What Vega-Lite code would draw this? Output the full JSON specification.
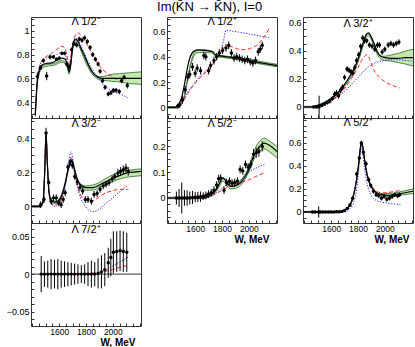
{
"$schema": "https://vega.github.io/schema/vega-lite/v6.json",
"padding": {"left": 5, "top": 1, "right": 2, "bottom": 0},
"title": {"text": "Im(K̄N → K̄N),  I=0", "fontSize": 13, "fontWeight": "normal", "anchor": "middle", "offset": 0, "font": "Liberation Sans"},
"spacing": 9,
"datasets": {
"cur": [
{"p":1,"s":"k","W":1422,"v":0.29},{"p":1,"s":"k","W":1435,"v":0.55},{"p":1,"s":"k","W":1450,"v":0.66},{"p":1,"s":"k","W":1470,"v":0.71},{"p":1,"s":"k","W":1500,"v":0.725},{"p":1,"s":"k","W":1540,"v":0.73},{"p":1,"s":"k","W":1580,"v":0.75},{"p":1,"s":"k","W":1620,"v":0.77},{"p":1,"s":"k","W":1645,"v":0.76},{"p":1,"s":"k","W":1662,"v":0.71},{"p":1,"s":"k","W":1674,"v":0.655},{"p":1,"s":"k","W":1686,"v":0.72},{"p":1,"s":"k","W":1700,"v":0.86},{"p":1,"s":"k","W":1718,"v":0.93},{"p":1,"s":"k","W":1740,"v":0.91},{"p":1,"s":"k","W":1760,"v":0.86},{"p":1,"s":"k","W":1790,"v":0.79},{"p":1,"s":"k","W":1820,"v":0.71},{"p":1,"s":"k","W":1850,"v":0.65},{"p":1,"s":"k","W":1880,"v":0.615},{"p":1,"s":"k","W":1920,"v":0.6},{"p":1,"s":"k","W":1980,"v":0.6},{"p":1,"s":"k","W":2050,"v":0.6},{"p":1,"s":"k","W":2120,"v":0.6},{"p":1,"s":"k","W":2210,"v":0.6},
{"p":1,"s":"r","W":1422,"v":0.3},{"p":1,"s":"r","W":1440,"v":0.62},{"p":1,"s":"r","W":1460,"v":0.72},{"p":1,"s":"r","W":1490,"v":0.77},{"p":1,"s":"r","W":1530,"v":0.8},{"p":1,"s":"r","W":1580,"v":0.84},{"p":1,"s":"r","W":1620,"v":0.87},{"p":1,"s":"r","W":1645,"v":0.85},{"p":1,"s":"r","W":1662,"v":0.77},{"p":1,"s":"r","W":1674,"v":0.7},{"p":1,"s":"r","W":1688,"v":0.79},{"p":1,"s":"r","W":1712,"v":0.94},{"p":1,"s":"r","W":1740,"v":0.98},{"p":1,"s":"r","W":1765,"v":0.96},{"p":1,"s":"r","W":1800,"v":0.9},{"p":1,"s":"r","W":1840,"v":0.82},{"p":1,"s":"r","W":1880,"v":0.74},{"p":1,"s":"r","W":1920,"v":0.68},{"p":1,"s":"r","W":1960,"v":0.64},{"p":1,"s":"r","W":2000,"v":0.61},{"p":1,"s":"r","W":2050,"v":0.58},{"p":1,"s":"r","W":2090,"v":0.56},
{"p":1,"s":"b","W":1422,"v":0.3},{"p":1,"s":"b","W":1440,"v":0.62},{"p":1,"s":"b","W":1460,"v":0.72},{"p":1,"s":"b","W":1490,"v":0.76},{"p":1,"s":"b","W":1530,"v":0.78},{"p":1,"s":"b","W":1580,"v":0.8},{"p":1,"s":"b","W":1620,"v":0.82},{"p":1,"s":"b","W":1645,"v":0.8},{"p":1,"s":"b","W":1662,"v":0.73},{"p":1,"s":"b","W":1674,"v":0.68},{"p":1,"s":"b","W":1688,"v":0.77},{"p":1,"s":"b","W":1712,"v":0.91},{"p":1,"s":"b","W":1732,"v":0.935},{"p":1,"s":"b","W":1760,"v":0.88},{"p":1,"s":"b","W":1800,"v":0.78},{"p":1,"s":"b","W":1840,"v":0.69},{"p":1,"s":"b","W":1880,"v":0.62},{"p":1,"s":"b","W":1920,"v":0.56},{"p":1,"s":"b","W":1960,"v":0.52},{"p":1,"s":"b","W":2000,"v":0.49},{"p":1,"s":"b","W":2050,"v":0.47},{"p":1,"s":"b","W":2110,"v":0.44},
{"p":2,"s":"k","W":1390,"v":0},{"p":2,"s":"k","W":1450,"v":0},{"p":2,"s":"k","W":1475,"v":0.02},{"p":2,"s":"k","W":1500,"v":0.08},{"p":2,"s":"k","W":1520,"v":0.18},{"p":2,"s":"k","W":1540,"v":0.3},{"p":2,"s":"k","W":1560,"v":0.39},{"p":2,"s":"k","W":1585,"v":0.44},{"p":2,"s":"k","W":1620,"v":0.455},{"p":2,"s":"k","W":1680,"v":0.45},{"p":2,"s":"k","W":1730,"v":0.44},{"p":2,"s":"k","W":1752,"v":0.415},{"p":2,"s":"k","W":1800,"v":0.405},{"p":2,"s":"k","W":1900,"v":0.39},{"p":2,"s":"k","W":2000,"v":0.37},{"p":2,"s":"k","W":2100,"v":0.35},{"p":2,"s":"k","W":2210,"v":0.33},
{"p":2,"s":"b","W":1390,"v":0},{"p":2,"s":"b","W":1450,"v":0},{"p":2,"s":"b","W":1480,"v":0.02},{"p":2,"s":"b","W":1510,"v":0.06},{"p":2,"s":"b","W":1550,"v":0.13},{"p":2,"s":"b","W":1600,"v":0.2},{"p":2,"s":"b","W":1650,"v":0.26},{"p":2,"s":"b","W":1700,"v":0.31},{"p":2,"s":"b","W":1750,"v":0.37},{"p":2,"s":"b","W":1785,"v":0.43},{"p":2,"s":"b","W":1810,"v":0.52},{"p":2,"s":"b","W":1830,"v":0.61},{"p":2,"s":"b","W":1860,"v":0.605},{"p":2,"s":"b","W":1920,"v":0.595},{"p":2,"s":"b","W":2000,"v":0.58},{"p":2,"s":"b","W":2080,"v":0.565},{"p":2,"s":"b","W":2150,"v":0.55},
{"p":2,"s":"r","W":1390,"v":0},{"p":2,"s":"r","W":1450,"v":0},{"p":2,"s":"r","W":1480,"v":0.02},{"p":2,"s":"r","W":1510,"v":0.05},{"p":2,"s":"r","W":1550,"v":0.12},{"p":2,"s":"r","W":1600,"v":0.19},{"p":2,"s":"r","W":1650,"v":0.25},{"p":2,"s":"r","W":1700,"v":0.3},{"p":2,"s":"r","W":1750,"v":0.37},{"p":2,"s":"r","W":1790,"v":0.43},{"p":2,"s":"r","W":1830,"v":0.48},{"p":2,"s":"r","W":1870,"v":0.48},{"p":2,"s":"r","W":1920,"v":0.46},{"p":2,"s":"r","W":1970,"v":0.455},{"p":2,"s":"r","W":2020,"v":0.47},{"p":2,"s":"r","W":2070,"v":0.5},{"p":2,"s":"r","W":2110,"v":0.55},{"p":2,"s":"r","W":2150,"v":0.62},
{"p":3,"s":"k","W":1390,"v":0},{"p":3,"s":"k","W":1450,"v":0},{"p":3,"s":"k","W":1500,"v":0.01},{"p":3,"s":"k","W":1550,"v":0.03},{"p":3,"s":"k","W":1600,"v":0.06},{"p":3,"s":"k","W":1650,"v":0.1},{"p":3,"s":"k","W":1700,"v":0.16},{"p":3,"s":"k","W":1740,"v":0.22},{"p":3,"s":"k","W":1780,"v":0.29},{"p":3,"s":"k","W":1810,"v":0.37},{"p":3,"s":"k","W":1840,"v":0.46},{"p":3,"s":"k","W":1862,"v":0.515},{"p":3,"s":"k","W":1878,"v":0.525},{"p":3,"s":"k","W":1900,"v":0.495},{"p":3,"s":"k","W":1920,"v":0.45},{"p":3,"s":"k","W":1945,"v":0.39},{"p":3,"s":"k","W":1970,"v":0.36},{"p":3,"s":"k","W":2000,"v":0.35},{"p":3,"s":"k","W":2050,"v":0.345},{"p":3,"s":"k","W":2100,"v":0.345},{"p":3,"s":"k","W":2150,"v":0.35},{"p":3,"s":"k","W":2210,"v":0.35},
{"p":3,"s":"b","W":1390,"v":0},{"p":3,"s":"b","W":1450,"v":0},{"p":3,"s":"b","W":1500,"v":0.01},{"p":3,"s":"b","W":1550,"v":0.025},{"p":3,"s":"b","W":1600,"v":0.045},{"p":3,"s":"b","W":1650,"v":0.075},{"p":3,"s":"b","W":1700,"v":0.11},{"p":3,"s":"b","W":1750,"v":0.16},{"p":3,"s":"b","W":1800,"v":0.21},{"p":3,"s":"b","W":1850,"v":0.26},{"p":3,"s":"b","W":1900,"v":0.3},{"p":3,"s":"b","W":1950,"v":0.32},{"p":3,"s":"b","W":2000,"v":0.33},{"p":3,"s":"b","W":2050,"v":0.335},{"p":3,"s":"b","W":2100,"v":0.335},{"p":3,"s":"b","W":2150,"v":0.33},{"p":3,"s":"b","W":2210,"v":0.325},
{"p":3,"s":"r","W":1390,"v":0},{"p":3,"s":"r","W":1450,"v":0},{"p":3,"s":"r","W":1500,"v":0.01},{"p":3,"s":"r","W":1550,"v":0.025},{"p":3,"s":"r","W":1600,"v":0.045},{"p":3,"s":"r","W":1650,"v":0.08},{"p":3,"s":"r","W":1700,"v":0.13},{"p":3,"s":"r","W":1750,"v":0.2},{"p":3,"s":"r","W":1800,"v":0.28},{"p":3,"s":"r","W":1840,"v":0.35},{"p":3,"s":"r","W":1865,"v":0.37},{"p":3,"s":"r","W":1885,"v":0.345},{"p":3,"s":"r","W":1905,"v":0.29},{"p":3,"s":"r","W":1930,"v":0.245},{"p":3,"s":"r","W":1960,"v":0.21},{"p":3,"s":"r","W":2000,"v":0.18},{"p":3,"s":"r","W":2050,"v":0.155},{"p":3,"s":"r","W":2110,"v":0.135},
{"p":4,"s":"k","W":1390,"v":0},{"p":4,"s":"k","W":1460,"v":0},{"p":4,"s":"k","W":1480,"v":0.03},{"p":4,"s":"k","W":1492,"v":0.2},{"p":4,"s":"k","W":1502,"v":0.43},{"p":4,"s":"k","W":1512,"v":0.25},{"p":4,"s":"k","W":1525,"v":0.08},{"p":4,"s":"k","W":1545,"v":0.03},{"p":4,"s":"k","W":1575,"v":0.025},{"p":4,"s":"k","W":1610,"v":0.05},{"p":4,"s":"k","W":1640,"v":0.12},{"p":4,"s":"k","W":1665,"v":0.21},{"p":4,"s":"k","W":1685,"v":0.26},{"p":4,"s":"k","W":1695,"v":0.27},{"p":4,"s":"k","W":1710,"v":0.23},{"p":4,"s":"k","W":1730,"v":0.17},{"p":4,"s":"k","W":1760,"v":0.125},{"p":4,"s":"k","W":1800,"v":0.11},{"p":4,"s":"k","W":1850,"v":0.11},{"p":4,"s":"k","W":1900,"v":0.125},{"p":4,"s":"k","W":1950,"v":0.145},{"p":4,"s":"k","W":2000,"v":0.165},{"p":4,"s":"k","W":2050,"v":0.18},{"p":4,"s":"k","W":2100,"v":0.195},{"p":4,"s":"k","W":2150,"v":0.2},{"p":4,"s":"k","W":2210,"v":0.205},
{"p":4,"s":"b","W":1390,"v":0},{"p":4,"s":"b","W":1460,"v":0},{"p":4,"s":"b","W":1480,"v":0.03},{"p":4,"s":"b","W":1492,"v":0.19},{"p":4,"s":"b","W":1502,"v":0.4},{"p":4,"s":"b","W":1512,"v":0.24},{"p":4,"s":"b","W":1525,"v":0.07},{"p":4,"s":"b","W":1545,"v":0.01},{"p":4,"s":"b","W":1565,"v":0},{"p":4,"s":"b","W":1590,"v":0.01},{"p":4,"s":"b","W":1620,"v":0.05},{"p":4,"s":"b","W":1650,"v":0.14},{"p":4,"s":"b","W":1670,"v":0.25},{"p":4,"s":"b","W":1688,"v":0.32},{"p":4,"s":"b","W":1700,"v":0.29},{"p":4,"s":"b","W":1715,"v":0.21},{"p":4,"s":"b","W":1735,"v":0.12},{"p":4,"s":"b","W":1760,"v":0.05},{"p":4,"s":"b","W":1790,"v":0.005},{"p":4,"s":"b","W":1830,"v":-0.025},{"p":4,"s":"b","W":1860,"v":-0.03},{"p":4,"s":"b","W":1900,"v":-0.015},{"p":4,"s":"b","W":1950,"v":0.02},{"p":4,"s":"b","W":2000,"v":0.05},{"p":4,"s":"b","W":2050,"v":0.085},{"p":4,"s":"b","W":2116,"v":0.125},
{"p":4,"s":"r","W":1390,"v":0},{"p":4,"s":"r","W":1460,"v":0},{"p":4,"s":"r","W":1480,"v":0.03},{"p":4,"s":"r","W":1492,"v":0.2},{"p":4,"s":"r","W":1502,"v":0.42},{"p":4,"s":"r","W":1512,"v":0.25},{"p":4,"s":"r","W":1525,"v":0.075},{"p":4,"s":"r","W":1545,"v":0.015},{"p":4,"s":"r","W":1565,"v":0.005},{"p":4,"s":"r","W":1590,"v":0.015},{"p":4,"s":"r","W":1620,"v":0.05},{"p":4,"s":"r","W":1650,"v":0.15},{"p":4,"s":"r","W":1670,"v":0.24},{"p":4,"s":"r","W":1688,"v":0.29},{"p":4,"s":"r","W":1700,"v":0.26},{"p":4,"s":"r","W":1720,"v":0.17},{"p":4,"s":"r","W":1743,"v":0.1},{"p":4,"s":"r","W":1770,"v":0.055},{"p":4,"s":"r","W":1800,"v":0.035},{"p":4,"s":"r","W":1830,"v":0.03},{"p":4,"s":"r","W":1870,"v":0.04},{"p":4,"s":"r","W":1905,"v":0.06},{"p":4,"s":"r","W":1950,"v":0.08},{"p":4,"s":"r","W":1990,"v":0.09},{"p":4,"s":"r","W":2050,"v":0.1},{"p":4,"s":"r","W":2116,"v":0.1},
{"p":5,"s":"k","W":1390,"v":0},{"p":5,"s":"k","W":1650,"v":0},{"p":5,"s":"k","W":1690,"v":0.006},{"p":5,"s":"k","W":1730,"v":0.018},{"p":5,"s":"k","W":1760,"v":0.035},{"p":5,"s":"k","W":1785,"v":0.06},{"p":5,"s":"k","W":1805,"v":0.077},{"p":5,"s":"k","W":1820,"v":0.072},{"p":5,"s":"k","W":1840,"v":0.056},{"p":5,"s":"k","W":1865,"v":0.045},{"p":5,"s":"k","W":1900,"v":0.047},{"p":5,"s":"k","W":1940,"v":0.06},{"p":5,"s":"k","W":1975,"v":0.085},{"p":5,"s":"k","W":2000,"v":0.11},{"p":5,"s":"k","W":2030,"v":0.155},{"p":5,"s":"k","W":2060,"v":0.185},{"p":5,"s":"k","W":2090,"v":0.205},{"p":5,"s":"k","W":2115,"v":0.213},{"p":5,"s":"k","W":2150,"v":0.205},{"p":5,"s":"k","W":2210,"v":0.18},
{"p":5,"s":"b","W":1390,"v":0},{"p":5,"s":"b","W":1680,"v":0},{"p":5,"s":"b","W":1720,"v":0.01},{"p":5,"s":"b","W":1760,"v":0.022},{"p":5,"s":"b","W":1800,"v":0.038},{"p":5,"s":"b","W":1850,"v":0.055},{"p":5,"s":"b","W":1900,"v":0.058},{"p":5,"s":"b","W":1930,"v":0.066},{"p":5,"s":"b","W":1960,"v":0.08},{"p":5,"s":"b","W":2000,"v":0.1},{"p":5,"s":"b","W":2050,"v":0.115},{"p":5,"s":"b","W":2116,"v":0.13},
{"p":5,"s":"r","W":1390,"v":0},{"p":5,"s":"r","W":1680,"v":0},{"p":5,"s":"r","W":1720,"v":0.008},{"p":5,"s":"r","W":1760,"v":0.018},{"p":5,"s":"r","W":1800,"v":0.03},{"p":5,"s":"r","W":1850,"v":0.043},{"p":5,"s":"r","W":1900,"v":0.052},{"p":5,"s":"r","W":1950,"v":0.062},{"p":5,"s":"r","W":2000,"v":0.07},{"p":5,"s":"r","W":2050,"v":0.083},{"p":5,"s":"r","W":2116,"v":0.097},
{"p":6,"s":"k","W":1390,"v":0},{"p":6,"s":"k","W":1660,"v":0},{"p":6,"s":"k","W":1700,"v":0.015},{"p":6,"s":"k","W":1730,"v":0.045},{"p":6,"s":"k","W":1755,"v":0.1},{"p":6,"s":"k","W":1775,"v":0.19},{"p":6,"s":"k","W":1792,"v":0.3},{"p":6,"s":"k","W":1808,"v":0.45},{"p":6,"s":"k","W":1818,"v":0.56},{"p":6,"s":"k","W":1826,"v":0.6},{"p":6,"s":"k","W":1835,"v":0.57},{"p":6,"s":"k","W":1845,"v":0.49},{"p":6,"s":"k","W":1860,"v":0.37},{"p":6,"s":"k","W":1880,"v":0.27},{"p":6,"s":"k","W":1905,"v":0.21},{"p":6,"s":"k","W":1940,"v":0.165},{"p":6,"s":"k","W":1980,"v":0.15},{"p":6,"s":"k","W":2030,"v":0.145},{"p":6,"s":"k","W":2080,"v":0.15},{"p":6,"s":"k","W":2140,"v":0.165},{"p":6,"s":"k","W":2210,"v":0.18},
{"p":6,"s":"b","W":1390,"v":0},{"p":6,"s":"b","W":1700,"v":0},{"p":6,"s":"b","W":1740,"v":0.03},{"p":6,"s":"b","W":1770,"v":0.09},{"p":6,"s":"b","W":1790,"v":0.2},{"p":6,"s":"b","W":1808,"v":0.4},{"p":6,"s":"b","W":1820,"v":0.55},{"p":6,"s":"b","W":1826,"v":0.57},{"p":6,"s":"b","W":1835,"v":0.51},{"p":6,"s":"b","W":1845,"v":0.41},{"p":6,"s":"b","W":1858,"v":0.3},{"p":6,"s":"b","W":1875,"v":0.21},{"p":6,"s":"b","W":1900,"v":0.14},{"p":6,"s":"b","W":1930,"v":0.105},{"p":6,"s":"b","W":1980,"v":0.085},{"p":6,"s":"b","W":2030,"v":0.075},{"p":6,"s":"b","W":2080,"v":0.068},{"p":6,"s":"b","W":2116,"v":0.064},
{"p":6,"s":"r","W":1390,"v":0},{"p":6,"s":"r","W":1660,"v":0},{"p":6,"s":"r","W":1700,"v":0.012},{"p":6,"s":"r","W":1730,"v":0.04},{"p":6,"s":"r","W":1755,"v":0.09},{"p":6,"s":"r","W":1775,"v":0.18},{"p":6,"s":"r","W":1792,"v":0.29},{"p":6,"s":"r","W":1808,"v":0.44},{"p":6,"s":"r","W":1818,"v":0.55},{"p":6,"s":"r","W":1826,"v":0.59},{"p":6,"s":"r","W":1835,"v":0.56},{"p":6,"s":"r","W":1845,"v":0.49},{"p":6,"s":"r","W":1860,"v":0.38},{"p":6,"s":"r","W":1880,"v":0.28},{"p":6,"s":"r","W":1905,"v":0.22},{"p":6,"s":"r","W":1940,"v":0.18},{"p":6,"s":"r","W":1980,"v":0.165},{"p":6,"s":"r","W":2030,"v":0.17},{"p":6,"s":"r","W":2080,"v":0.18},{"p":6,"s":"r","W":2116,"v":0.185},
{"p":7,"s":"z","W":1390,"v":0},{"p":7,"s":"z","W":2210,"v":0},
{"p":7,"s":"r","W":1600,"v":0},{"p":7,"s":"r","W":1700,"v":0.0005},{"p":7,"s":"r","W":1800,"v":0.001},{"p":7,"s":"r","W":1900,"v":0.002},{"p":7,"s":"r","W":1950,"v":0.004},{"p":7,"s":"r","W":2000,"v":0.006},{"p":7,"s":"r","W":2050,"v":0.009},{"p":7,"s":"r","W":2100,"v":0.011},
{"p":7,"s":"b","W":1800,"v":0},{"p":7,"s":"b","W":1900,"v":0.002},{"p":7,"s":"b","W":1950,"v":0.006},{"p":7,"s":"b","W":2000,"v":0.011},{"p":7,"s":"b","W":2050,"v":0.016},{"p":7,"s":"b","W":2100,"v":0.021},{"p":7,"s":"b","W":2115,"v":0.023}
],
"band": [
{"p":1,"W":1422,"v":0.28,"v2":0.3},{"p":1,"W":1435,"v":0.53,"v2":0.55},{"p":1,"W":1450,"v":0.63,"v2":0.65},{"p":1,"W":1470,"v":0.685,"v2":0.7},{"p":1,"W":1500,"v":0.7,"v2":0.715},{"p":1,"W":1560,"v":0.71,"v2":0.725},{"p":1,"W":1620,"v":0.735,"v2":0.75},{"p":1,"W":1645,"v":0.725,"v2":0.74},{"p":1,"W":1662,"v":0.685,"v2":0.7},{"p":1,"W":1674,"v":0.635,"v2":0.655},{"p":1,"W":1686,"v":0.7,"v2":0.72},{"p":1,"W":1700,"v":0.84,"v2":0.855},{"p":1,"W":1718,"v":0.9,"v2":0.915},{"p":1,"W":1740,"v":0.885,"v2":0.9},{"p":1,"W":1770,"v":0.81,"v2":0.825},{"p":1,"W":1800,"v":0.73,"v2":0.745},{"p":1,"W":1840,"v":0.645,"v2":0.66},{"p":1,"W":1880,"v":0.6,"v2":0.62},{"p":1,"W":1920,"v":0.585,"v2":0.615},{"p":1,"W":1960,"v":0.58,"v2":0.625},{"p":1,"W":2000,"v":0.575,"v2":0.635},{"p":1,"W":2050,"v":0.57,"v2":0.64},{"p":1,"W":2100,"v":0.56,"v2":0.645},{"p":1,"W":2150,"v":0.555,"v2":0.65},{"p":1,"W":2210,"v":0.55,"v2":0.655},
{"p":2,"W":1390,"v":-0.006,"v2":0.006},{"p":2,"W":1460,"v":-0.006,"v2":0.006},{"p":2,"W":1490,"v":0.01,"v2":0.025},{"p":2,"W":1520,"v":0.08,"v2":0.1},{"p":2,"W":1550,"v":0.25,"v2":0.27},{"p":2,"W":1580,"v":0.38,"v2":0.4},{"p":2,"W":1610,"v":0.43,"v2":0.45},{"p":2,"W":1660,"v":0.435,"v2":0.455},{"p":2,"W":1720,"v":0.43,"v2":0.445},{"p":2,"W":1750,"v":0.405,"v2":0.42},{"p":2,"W":1800,"v":0.395,"v2":0.41},{"p":2,"W":1900,"v":0.38,"v2":0.395},{"p":2,"W":2000,"v":0.36,"v2":0.38},{"p":2,"W":2100,"v":0.34,"v2":0.36},{"p":2,"W":2210,"v":0.32,"v2":0.34},
{"p":3,"W":1390,"v":-0.005,"v2":0.005},{"p":3,"W":1450,"v":-0.005,"v2":0.005},{"p":3,"W":1500,"v":0.005,"v2":0.015},{"p":3,"W":1550,"v":0.02,"v2":0.035},{"p":3,"W":1600,"v":0.05,"v2":0.065},{"p":3,"W":1650,"v":0.085,"v2":0.1},{"p":3,"W":1700,"v":0.145,"v2":0.16},{"p":3,"W":1740,"v":0.2,"v2":0.22},{"p":3,"W":1780,"v":0.27,"v2":0.29},{"p":3,"W":1810,"v":0.345,"v2":0.365},{"p":3,"W":1840,"v":0.44,"v2":0.46},{"p":3,"W":1862,"v":0.5,"v2":0.515},{"p":3,"W":1878,"v":0.505,"v2":0.52},{"p":3,"W":1900,"v":0.475,"v2":0.49},{"p":3,"W":1920,"v":0.43,"v2":0.445},{"p":3,"W":1945,"v":0.37,"v2":0.385},{"p":3,"W":1970,"v":0.34,"v2":0.36},{"p":3,"W":2000,"v":0.33,"v2":0.36},{"p":3,"W":2050,"v":0.325,"v2":0.37},{"p":3,"W":2100,"v":0.315,"v2":0.38},{"p":3,"W":2150,"v":0.305,"v2":0.395},{"p":3,"W":2210,"v":0.29,"v2":0.41},
{"p":4,"W":1390,"v":-0.005,"v2":0.005},{"p":4,"W":1460,"v":-0.005,"v2":0.005},{"p":4,"W":1480,"v":0.02,"v2":0.035},{"p":4,"W":1492,"v":0.19,"v2":0.21},{"p":4,"W":1502,"v":0.41,"v2":0.43},{"p":4,"W":1512,"v":0.24,"v2":0.26},{"p":4,"W":1525,"v":0.07,"v2":0.085},{"p":4,"W":1545,"v":0.02,"v2":0.035},{"p":4,"W":1575,"v":0.015,"v2":0.03},{"p":4,"W":1610,"v":0.04,"v2":0.055},{"p":4,"W":1640,"v":0.11,"v2":0.125},{"p":4,"W":1665,"v":0.2,"v2":0.215},{"p":4,"W":1685,"v":0.25,"v2":0.265},{"p":4,"W":1695,"v":0.26,"v2":0.275},{"p":4,"W":1710,"v":0.22,"v2":0.235},{"p":4,"W":1730,"v":0.16,"v2":0.175},{"p":4,"W":1760,"v":0.115,"v2":0.13},{"p":4,"W":1800,"v":0.095,"v2":0.12},{"p":4,"W":1850,"v":0.095,"v2":0.125},{"p":4,"W":1900,"v":0.11,"v2":0.14},{"p":4,"W":1950,"v":0.13,"v2":0.165},{"p":4,"W":2000,"v":0.145,"v2":0.185},{"p":4,"W":2050,"v":0.16,"v2":0.2},{"p":4,"W":2100,"v":0.17,"v2":0.21},{"p":4,"W":2150,"v":0.175,"v2":0.215},{"p":4,"W":2210,"v":0.18,"v2":0.22},
{"p":5,"W":1390,"v":-0.003,"v2":0.003},{"p":5,"W":1650,"v":-0.003,"v2":0.003},{"p":5,"W":1690,"v":0.002,"v2":0.01},{"p":5,"W":1730,"v":0.012,"v2":0.022},{"p":5,"W":1760,"v":0.028,"v2":0.04},{"p":5,"W":1785,"v":0.05,"v2":0.065},{"p":5,"W":1805,"v":0.065,"v2":0.08},{"p":5,"W":1820,"v":0.06,"v2":0.075},{"p":5,"W":1840,"v":0.045,"v2":0.06},{"p":5,"W":1865,"v":0.035,"v2":0.05},{"p":5,"W":1900,"v":0.037,"v2":0.053},{"p":5,"W":1940,"v":0.05,"v2":0.068},{"p":5,"W":1975,"v":0.075,"v2":0.095},{"p":5,"W":2000,"v":0.1,"v2":0.122},{"p":5,"W":2030,"v":0.14,"v2":0.168},{"p":5,"W":2060,"v":0.17,"v2":0.205},{"p":5,"W":2090,"v":0.185,"v2":0.225},{"p":5,"W":2115,"v":0.19,"v2":0.232},{"p":5,"W":2150,"v":0.18,"v2":0.222},{"p":5,"W":2210,"v":0.155,"v2":0.2},
{"p":6,"W":1390,"v":-0.005,"v2":0.005},{"p":6,"W":1660,"v":-0.005,"v2":0.005},{"p":6,"W":1700,"v":0.01,"v2":0.02},{"p":6,"W":1730,"v":0.04,"v2":0.05},{"p":6,"W":1755,"v":0.095,"v2":0.105},{"p":6,"W":1775,"v":0.185,"v2":0.195},{"p":6,"W":1792,"v":0.295,"v2":0.305},{"p":6,"W":1808,"v":0.445,"v2":0.455},{"p":6,"W":1818,"v":0.555,"v2":0.565},{"p":6,"W":1826,"v":0.595,"v2":0.605},{"p":6,"W":1835,"v":0.565,"v2":0.575},{"p":6,"W":1845,"v":0.485,"v2":0.495},{"p":6,"W":1860,"v":0.365,"v2":0.375},{"p":6,"W":1880,"v":0.265,"v2":0.275},{"p":6,"W":1905,"v":0.2,"v2":0.215},{"p":6,"W":1940,"v":0.155,"v2":0.17},{"p":6,"W":1980,"v":0.14,"v2":0.16},{"p":6,"W":2030,"v":0.135,"v2":0.16},{"p":6,"W":2080,"v":0.14,"v2":0.167},{"p":6,"W":2140,"v":0.15,"v2":0.182},{"p":6,"W":2210,"v":0.16,"v2":0.2}
],
"pts": [
{"p":1,"W":1437,"v":0.615,"e":0.035},{"p":1,"W":1462,"v":0.69,"e":0.02},{"p":1,"W":1482,"v":0.75,"e":0.02},{"p":1,"W":1507,"v":0.62,"e":0.035},{"p":1,"W":1532,"v":0.78,"e":0.02},{"p":1,"W":1557,"v":0.78,"e":0.015},{"p":1,"W":1580,"v":0.76,"e":0.015},{"p":1,"W":1600,"v":0.77,"e":0.015},{"p":1,"W":1620,"v":0.81,"e":0.015},{"p":1,"W":1640,"v":0.81,"e":0.015},{"p":1,"W":1656,"v":0.72,"e":0.02},{"p":1,"W":1673,"v":0.7,"e":0.02},{"p":1,"W":1693,"v":0.84,"e":0.02},{"p":1,"W":1710,"v":0.89,"e":0.02},{"p":1,"W":1730,"v":0.88,"e":0.02},{"p":1,"W":1750,"v":0.93,"e":0.02},{"p":1,"W":1770,"v":0.92,"e":0.02},{"p":1,"W":1790,"v":0.94,"e":0.02},{"p":1,"W":1810,"v":0.91,"e":0.02},{"p":1,"W":1830,"v":0.86,"e":0.02},{"p":1,"W":1850,"v":0.8,"e":0.02},{"p":1,"W":1870,"v":0.76,"e":0.02},{"p":1,"W":1890,"v":0.72,"e":0.02},{"p":1,"W":1905,"v":0.66,"e":0.02},{"p":1,"W":1924,"v":0.58,"e":0.02},{"p":1,"W":1942,"v":0.525,"e":0.02},{"p":1,"W":1966,"v":0.47,"e":0.02},{"p":1,"W":1986,"v":0.48,"e":0.02},{"p":1,"W":2004,"v":0.5,"e":0.02},{"p":1,"W":2024,"v":0.5,"e":0.02},{"p":1,"W":2048,"v":0.49,"e":0.02},{"p":1,"W":2066,"v":0.58,"e":0.02},{"p":1,"W":2084,"v":0.61,"e":0.02},{"p":1,"W":2108,"v":0.54,"e":0.025},
{"p":2,"W":1470,"v":0.01,"e":0.02},{"p":2,"W":1485,"v":0.02,"e":0.025},{"p":2,"W":1505,"v":0.06,"e":0.03},{"p":2,"W":1525,"v":0.14,"e":0.03},{"p":2,"W":1545,"v":0.24,"e":0.03},{"p":2,"W":1560,"v":0.26,"e":0.03},{"p":2,"W":1580,"v":0.32,"e":0.03},{"p":2,"W":1600,"v":0.27,"e":0.03},{"p":2,"W":1615,"v":0.31,"e":0.03},{"p":2,"W":1640,"v":0.29,"e":0.03},{"p":2,"W":1665,"v":0.41,"e":0.03},{"p":2,"W":1680,"v":0.4,"e":0.03},{"p":2,"W":1700,"v":0.29,"e":0.03},{"p":2,"W":1715,"v":0.33,"e":0.03},{"p":2,"W":1740,"v":0.37,"e":0.03},{"p":2,"W":1760,"v":0.4,"e":0.03},{"p":2,"W":1780,"v":0.43,"e":0.03},{"p":2,"W":1805,"v":0.45,"e":0.03},{"p":2,"W":1830,"v":0.47,"e":0.03},{"p":2,"W":1850,"v":0.49,"e":0.03},{"p":2,"W":1870,"v":0.43,"e":0.03},{"p":2,"W":1890,"v":0.39,"e":0.03},{"p":2,"W":1910,"v":0.4,"e":0.03},{"p":2,"W":1930,"v":0.39,"e":0.03},{"p":2,"W":1950,"v":0.38,"e":0.03},{"p":2,"W":1970,"v":0.37,"e":0.03},{"p":2,"W":1990,"v":0.38,"e":0.03},{"p":2,"W":2010,"v":0.36,"e":0.03},{"p":2,"W":2030,"v":0.35,"e":0.03},{"p":2,"W":2050,"v":0.37,"e":0.03},{"p":2,"W":2070,"v":0.44,"e":0.03},{"p":2,"W":2085,"v":0.46,"e":0.03},{"p":2,"W":2100,"v":0.49,"e":0.03},
{"p":3,"W":1470,"v":0,"e":0.008},{"p":3,"W":1490,"v":0,"e":0.008},{"p":3,"W":1510,"v":0,"e":0.08},{"p":3,"W":1530,"v":0.01,"e":0.01},{"p":3,"W":1550,"v":0.02,"e":0.01},{"p":3,"W":1570,"v":0.03,"e":0.01},{"p":3,"W":1590,"v":0.04,"e":0.015},{"p":3,"W":1610,"v":0.06,"e":0.015},{"p":3,"W":1625,"v":0.09,"e":0.02},{"p":3,"W":1640,"v":0.1,"e":0.02},{"p":3,"W":1655,"v":0.08,"e":0.02},{"p":3,"W":1670,"v":0.12,"e":0.02},{"p":3,"W":1685,"v":0.14,"e":0.02},{"p":3,"W":1700,"v":0.21,"e":0.02},{"p":3,"W":1718,"v":0.27,"e":0.02},{"p":3,"W":1733,"v":0.26,"e":0.02},{"p":3,"W":1748,"v":0.25,"e":0.02},{"p":3,"W":1762,"v":0.24,"e":0.02},{"p":3,"W":1776,"v":0.28,"e":0.02},{"p":3,"W":1790,"v":0.33,"e":0.02},{"p":3,"W":1805,"v":0.37,"e":0.02},{"p":3,"W":1820,"v":0.43,"e":0.02},{"p":3,"W":1835,"v":0.49,"e":0.02},{"p":3,"W":1850,"v":0.47,"e":0.02},{"p":3,"W":1865,"v":0.47,"e":0.02},{"p":3,"W":1885,"v":0.44,"e":0.02},{"p":3,"W":1905,"v":0.43,"e":0.02},{"p":3,"W":1925,"v":0.41,"e":0.02},{"p":3,"W":1945,"v":0.44,"e":0.02},{"p":3,"W":1960,"v":0.44,"e":0.02},{"p":3,"W":1980,"v":0.39,"e":0.02},{"p":3,"W":2000,"v":0.41,"e":0.02},{"p":3,"W":2025,"v":0.44,"e":0.02},{"p":3,"W":2045,"v":0.45,"e":0.02},{"p":3,"W":2065,"v":0.44,"e":0.02},{"p":3,"W":2085,"v":0.45,"e":0.02},{"p":3,"W":2105,"v":0.46,"e":0.02},
{"p":4,"W":1462,"v":0.01,"e":0.02},{"p":4,"W":1487,"v":0.04,"e":0.02},{"p":4,"W":1502,"v":0.43,"e":0.03},{"p":4,"W":1522,"v":0.14,"e":0.02},{"p":4,"W":1540,"v":0.03,"e":0.02},{"p":4,"W":1558,"v":0.05,"e":0.02},{"p":4,"W":1578,"v":0.05,"e":0.02},{"p":4,"W":1598,"v":0.02,"e":0.02},{"p":4,"W":1615,"v":0.01,"e":0.02},{"p":4,"W":1630,"v":0.04,"e":0.02},{"p":4,"W":1645,"v":0.08,"e":0.02},{"p":4,"W":1665,"v":0.23,"e":0.02},{"p":4,"W":1683,"v":0.26,"e":0.02},{"p":4,"W":1698,"v":0.24,"e":0.02},{"p":4,"W":1716,"v":0.175,"e":0.02},{"p":4,"W":1735,"v":0.145,"e":0.02},{"p":4,"W":1755,"v":0.11,"e":0.02},{"p":4,"W":1775,"v":0.09,"e":0.02},{"p":4,"W":1795,"v":0.04,"e":0.02},{"p":4,"W":1815,"v":0.04,"e":0.02},{"p":4,"W":1840,"v":0.03,"e":0.02},{"p":4,"W":1860,"v":0.07,"e":0.02},{"p":4,"W":1883,"v":0.075,"e":0.02},{"p":4,"W":1905,"v":0.1,"e":0.02},{"p":4,"W":1928,"v":0.12,"e":0.02},{"p":4,"W":1950,"v":0.13,"e":0.02},{"p":4,"W":1972,"v":0.14,"e":0.02},{"p":4,"W":1995,"v":0.16,"e":0.02},{"p":4,"W":2015,"v":0.175,"e":0.02},{"p":4,"W":2038,"v":0.195,"e":0.025},{"p":4,"W":2058,"v":0.205,"e":0.025},{"p":4,"W":2078,"v":0.215,"e":0.025},{"p":4,"W":2098,"v":0.225,"e":0.025},{"p":4,"W":2115,"v":0.205,"e":0.025},
{"p":5,"W":1460,"v":0,"e":0.025},{"p":5,"W":1480,"v":0,"e":0.035},{"p":5,"W":1500,"v":0,"e":0.06},{"p":5,"W":1520,"v":0,"e":0.03},{"p":5,"W":1540,"v":0,"e":0.03},{"p":5,"W":1560,"v":0,"e":0.025},{"p":5,"W":1580,"v":0.002,"e":0.025},{"p":5,"W":1600,"v":0.003,"e":0.02},{"p":5,"W":1620,"v":0.004,"e":0.02},{"p":5,"W":1640,"v":0.005,"e":0.02},{"p":5,"W":1660,"v":0.007,"e":0.015},{"p":5,"W":1680,"v":0.01,"e":0.015},{"p":5,"W":1700,"v":0.015,"e":0.015},{"p":5,"W":1720,"v":0.02,"e":0.015},{"p":5,"W":1740,"v":0.03,"e":0.015},{"p":5,"W":1760,"v":0.05,"e":0.015},{"p":5,"W":1775,"v":0.075,"e":0.015},{"p":5,"W":1790,"v":0.077,"e":0.015},{"p":5,"W":1815,"v":0.03,"e":0.015},{"p":5,"W":1835,"v":0.06,"e":0.015},{"p":5,"W":1855,"v":0.065,"e":0.015},{"p":5,"W":1875,"v":0.058,"e":0.015},{"p":5,"W":1895,"v":0.06,"e":0.015},{"p":5,"W":1915,"v":0.065,"e":0.015},{"p":5,"W":1935,"v":0.11,"e":0.015},{"p":5,"W":1955,"v":0.105,"e":0.015},{"p":5,"W":1975,"v":0.13,"e":0.015},{"p":5,"W":1995,"v":0.12,"e":0.015},{"p":5,"W":2015,"v":0.13,"e":0.015},{"p":5,"W":2035,"v":0.17,"e":0.02},{"p":5,"W":2055,"v":0.175,"e":0.02},{"p":5,"W":2075,"v":0.18,"e":0.02},{"p":5,"W":2100,"v":0.2,"e":0.02},
{"p":6,"W":1460,"v":0,"e":0.008},{"p":6,"W":1480,"v":0,"e":0.008},{"p":6,"W":1507,"v":0,"e":0.05},{"p":6,"W":1520,"v":0,"e":0.01},{"p":6,"W":1540,"v":0,"e":0.008},{"p":6,"W":1560,"v":0,"e":0.008},{"p":6,"W":1580,"v":0,"e":0.008},{"p":6,"W":1600,"v":0,"e":0.008},{"p":6,"W":1620,"v":0,"e":0.008},{"p":6,"W":1640,"v":0.002,"e":0.008},{"p":6,"W":1660,"v":0.002,"e":0.008},{"p":6,"W":1680,"v":0.005,"e":0.008},{"p":6,"W":1700,"v":0.012,"e":0.01},{"p":6,"W":1720,"v":0.03,"e":0.01},{"p":6,"W":1740,"v":0.06,"e":0.012},{"p":6,"W":1760,"v":0.12,"e":0.015},{"p":6,"W":1790,"v":0.33,"e":0.02},{"p":6,"W":1810,"v":0.47,"e":0.02},{"p":6,"W":1825,"v":0.6,"e":0.02},{"p":6,"W":1840,"v":0.52,"e":0.02},{"p":6,"W":1860,"v":0.42,"e":0.02},{"p":6,"W":1880,"v":0.28,"e":0.02},{"p":6,"W":1895,"v":0.23,"e":0.02},{"p":6,"W":1915,"v":0.18,"e":0.02},{"p":6,"W":1935,"v":0.15,"e":0.02},{"p":6,"W":1955,"v":0.14,"e":0.02},{"p":6,"W":1975,"v":0.12,"e":0.02},{"p":6,"W":1995,"v":0.135,"e":0.02},{"p":6,"W":2015,"v":0.11,"e":0.02},{"p":6,"W":2035,"v":0.12,"e":0.02},{"p":6,"W":2055,"v":0.135,"e":0.02},{"p":6,"W":2075,"v":0.15,"e":0.02},{"p":6,"W":2095,"v":0.14,"e":0.02},{"p":6,"W":2110,"v":0.15,"e":0.02},
{"p":7,"W":1466,"v":0,"e":0.024},{"p":7,"W":1490,"v":0,"e":0.017},{"p":7,"W":1515,"v":0,"e":0.018},{"p":7,"W":1540,"v":0,"e":0.02},{"p":7,"W":1565,"v":0,"e":0.019},{"p":7,"W":1590,"v":0,"e":0.02},{"p":7,"W":1615,"v":0,"e":0.018},{"p":7,"W":1640,"v":0,"e":0.017},{"p":7,"W":1665,"v":0,"e":0.016},{"p":7,"W":1690,"v":0,"e":0.015},{"p":7,"W":1715,"v":0,"e":0.014},{"p":7,"W":1740,"v":0,"e":0.013},{"p":7,"W":1765,"v":0,"e":0.012},{"p":7,"W":1790,"v":0,"e":0.013},{"p":7,"W":1815,"v":0,"e":0.016},{"p":7,"W":1840,"v":0,"e":0.018},{"p":7,"W":1865,"v":0,"e":0.016},{"p":7,"W":1890,"v":0.001,"e":0.02},{"p":7,"W":1915,"v":0.003,"e":0.022},{"p":7,"W":1940,"v":0.006,"e":0.022},{"p":7,"W":1966,"v":0.015,"e":0.02},{"p":7,"W":1985,"v":0.022,"e":0.025},{"p":7,"W":2004,"v":0.029,"e":0.028},{"p":7,"W":2029,"v":0.03,"e":0.027},{"p":7,"W":2054,"v":0.031,"e":0.027},{"p":7,"W":2078,"v":0.03,"e":0.027},{"p":7,"W":2104,"v":0.029,"e":0.026}
]
},
"hconcat": [
{"spacing": 0, "bounds": "flush", "vconcat": [
{"width": 110, "height": 101, "title": {"text": "Λ 1/2⁻", "offset": -12, "fontSize": 11, "fontWeight": "normal"},
 "encoding": {
  "x": {"field": "W", "type": "quantitative", "title": null, "scale": {"domain": [1390, 2210], "nice": false, "zero": false}, "axis": {"values": [1400,1450,1500,1550,1600,1650,1700,1750,1800,1850,1900,1950,2000,2050,2100,2150,2200], "labels": false}},
  "y": {"field": "v", "type": "quantitative", "title": null, "scale": {"domain": [0.268, 1.115], "nice": false, "zero": false}, "axis": {"values": [0.3,0.35,0.4,0.45,0.5,0.55,0.6,0.65,0.7,0.75,0.8,0.85,0.9,0.95,1,1.05,1.1], "format": "~g", "labelExpr": "indexof([0.4,0.6,0.8,1], datum.value) >= 0 ? datum.label : ''"}}
 },
 "layer": [
  {"data": {"name": "band"}, "transform": [{"filter": "datum.p==1"}], "mark": {"type": "area", "color": "#c4e7b0", "interpolate": "monotone", "clip": true}, "encoding": {"y2": {"field": "v2"}}},
  {"data": {"name": "band"}, "transform": [{"filter": "datum.p==1"}], "mark": {"type": "line", "color": "#2b6a2b", "strokeWidth": 0.8, "interpolate": "monotone", "clip": true}},
  {"data": {"name": "band"}, "transform": [{"filter": "datum.p==1"}], "mark": {"type": "line", "color": "#2b6a2b", "strokeWidth": 0.8, "interpolate": "monotone", "clip": true}, "encoding": {"y": {"field": "v2", "type": "quantitative", "title": null}}},
  {"data": {"name": "cur"}, "transform": [{"filter": "datum.p==1 && datum.s=='r'"}], "mark": {"type": "line", "color": "#ff2020", "strokeDash": [4, 2.5], "strokeWidth": 1, "interpolate": "monotone", "clip": true}},
  {"data": {"name": "cur"}, "transform": [{"filter": "datum.p==1 && datum.s=='b'"}], "mark": {"type": "line", "color": "#2020ff", "strokeDash": [1.2, 1.6], "strokeWidth": 1, "interpolate": "monotone", "clip": true}},
  {"data": {"name": "cur"}, "transform": [{"filter": "datum.p==1 && datum.s=='k'"}], "mark": {"type": "line", "color": "#000", "strokeWidth": 1.2, "interpolate": "monotone", "clip": true}},
  {"data": {"name": "pts"}, "transform": [{"filter": "datum.p==1"}], "mark": {"type": "errorbar", "color": "#000", "thickness": 1}, "encoding": {"yError": {"field": "e"}}},
  {"data": {"name": "pts"}, "transform": [{"filter": "datum.p==1"}], "mark": {"type": "circle", "size": 12, "color": "#000", "opacity": 1}}
 ]},
{"width": 110, "height": 105, "title": {"text": "Λ 3/2⁻", "offset": -12, "fontSize": 11, "fontWeight": "normal"},
 "encoding": {
  "x": {"field": "W", "type": "quantitative", "title": null, "scale": {"domain": [1390, 2210], "nice": false, "zero": false}, "axis": {"values": [1400,1450,1500,1550,1600,1650,1700,1750,1800,1850,1900,1950,2000,2050,2100,2150,2200], "labels": false}},
  "y": {"field": "v", "type": "quantitative", "title": null, "scale": {"domain": [-0.097, 0.517], "nice": false, "zero": false}, "axis": {"values": [-0.05,0,0.05,0.1,0.15,0.2,0.25,0.3,0.35,0.4,0.45,0.5], "format": "~g", "labelExpr": "indexof([0,0.2,0.4], datum.value) >= 0 ? datum.label : ''"}}
 },
 "layer": [
  {"data": {"name": "band"}, "transform": [{"filter": "datum.p==4"}], "mark": {"type": "area", "color": "#c4e7b0", "interpolate": "monotone", "clip": true}, "encoding": {"y2": {"field": "v2"}}},
  {"data": {"name": "band"}, "transform": [{"filter": "datum.p==4"}], "mark": {"type": "line", "color": "#2b6a2b", "strokeWidth": 0.8, "interpolate": "monotone", "clip": true}},
  {"data": {"name": "band"}, "transform": [{"filter": "datum.p==4"}], "mark": {"type": "line", "color": "#2b6a2b", "strokeWidth": 0.8, "interpolate": "monotone", "clip": true}, "encoding": {"y": {"field": "v2", "type": "quantitative", "title": null}}},
  {"data": {"name": "cur"}, "transform": [{"filter": "datum.p==4 && datum.s=='r'"}], "mark": {"type": "line", "color": "#ff2020", "strokeDash": [4, 2.5], "strokeWidth": 1, "interpolate": "monotone", "clip": true}},
  {"data": {"name": "cur"}, "transform": [{"filter": "datum.p==4 && datum.s=='b'"}], "mark": {"type": "line", "color": "#2020ff", "strokeDash": [1.2, 1.6], "strokeWidth": 1, "interpolate": "monotone", "clip": true}},
  {"data": {"name": "cur"}, "transform": [{"filter": "datum.p==4 && datum.s=='k'"}], "mark": {"type": "line", "color": "#000", "strokeWidth": 1.2, "interpolate": "monotone", "clip": true}},
  {"data": {"name": "pts"}, "transform": [{"filter": "datum.p==4"}], "mark": {"type": "errorbar", "color": "#000", "thickness": 1}, "encoding": {"yError": {"field": "e"}}},
  {"data": {"name": "pts"}, "transform": [{"filter": "datum.p==4"}], "mark": {"type": "circle", "size": 12, "color": "#000", "opacity": 1}}
 ]},
{"width": 110, "height": 103, "title": {"text": "Λ 7/2⁺", "offset": -12, "fontSize": 11, "fontWeight": "normal"},
 "encoding": {
  "x": {"field": "W", "type": "quantitative", "title": null, "scale": {"domain": [1390, 2210], "nice": false, "zero": false}, "axis": {"values": [1400,1450,1500,1550,1600,1650,1700,1750,1800,1850,1900,1950,2000,2050,2100,2150,2200], "format": "d", "labelExpr": "datum.value==1600||datum.value==1800||datum.value==2000 ? datum.label : ''", "labelFontSize": 8.5, "labelPadding": 4, "title": "W, MeV", "titleX": 104, "titleAlign": "right", "titleFontWeight": "bold", "titleFontSize": 10, "titlePadding": 2, "labelFlush": false}},
  "y": {"field": "v", "type": "quantitative", "title": null, "scale": {"domain": [-0.069, 0.068], "nice": false, "zero": false}, "axis": {"values": [-0.06,-0.05,-0.04,-0.03,-0.02,-0.01,0,0.01,0.02,0.03,0.04,0.05,0.06], "format": "~g", "labelExpr": "indexof([-0.05,0,0.05], datum.value) >= 0 ? datum.label : ''"}}
 },
 "layer": [
  {"data": {"name": "cur"}, "transform": [{"filter": "datum.p==7 && datum.s=='z'"}], "mark": {"type": "line", "color": "#333", "strokeWidth": 1, "clip": true}},
  {"data": {"name": "cur"}, "transform": [{"filter": "datum.p==7 && datum.s=='r'"}], "mark": {"type": "line", "color": "#ff2020", "strokeDash": [4, 2.5], "strokeWidth": 1, "interpolate": "monotone", "clip": true}},
  {"data": {"name": "cur"}, "transform": [{"filter": "datum.p==7 && datum.s=='b'"}], "mark": {"type": "line", "color": "#2020ff", "strokeDash": [1.2, 1.6], "strokeWidth": 1, "interpolate": "monotone", "clip": true}},
  {"data": {"name": "pts"}, "transform": [{"filter": "datum.p==7"}], "mark": {"type": "errorbar", "color": "#000", "thickness": 1}, "encoding": {"yError": {"field": "e"}}},
  {"data": {"name": "pts"}, "transform": [{"filter": "datum.p==7"}], "mark": {"type": "circle", "size": 12, "color": "#000", "opacity": 1}}
 ]}
]},
{"spacing": 0, "bounds": "flush", "vconcat": [
{"width": 110, "height": 101, "title": {"text": "Λ 1/2⁺", "offset": -12, "fontSize": 11, "fontWeight": "normal"},
 "encoding": {
  "x": {"field": "W", "type": "quantitative", "title": null, "scale": {"domain": [1390, 2210], "nice": false, "zero": false}, "axis": {"values": [1400,1450,1500,1550,1600,1650,1700,1750,1800,1850,1900,1950,2000,2050,2100,2150,2200], "labels": false}},
  "y": {"field": "v", "type": "quantitative", "title": null, "scale": {"domain": [-0.084, 0.714], "nice": false, "zero": false}, "axis": {"values": [-0.05,0,0.05,0.1,0.15,0.2,0.25,0.3,0.35,0.4,0.45,0.5,0.55,0.6,0.65,0.7], "format": "~g", "labelExpr": "indexof([0,0.2,0.4,0.6], datum.value) >= 0 ? datum.label : ''"}}
 },
 "layer": [
  {"data": {"name": "band"}, "transform": [{"filter": "datum.p==2"}], "mark": {"type": "area", "color": "#c4e7b0", "interpolate": "monotone", "clip": true}, "encoding": {"y2": {"field": "v2"}}},
  {"data": {"name": "band"}, "transform": [{"filter": "datum.p==2"}], "mark": {"type": "line", "color": "#2b6a2b", "strokeWidth": 0.8, "interpolate": "monotone", "clip": true}},
  {"data": {"name": "band"}, "transform": [{"filter": "datum.p==2"}], "mark": {"type": "line", "color": "#2b6a2b", "strokeWidth": 0.8, "interpolate": "monotone", "clip": true}, "encoding": {"y": {"field": "v2", "type": "quantitative", "title": null}}},
  {"data": {"name": "cur"}, "transform": [{"filter": "datum.p==2 && datum.s=='r'"}], "mark": {"type": "line", "color": "#ff2020", "strokeDash": [4, 2.5], "strokeWidth": 1, "interpolate": "monotone", "clip": true}},
  {"data": {"name": "cur"}, "transform": [{"filter": "datum.p==2 && datum.s=='b'"}], "mark": {"type": "line", "color": "#2020ff", "strokeDash": [1.2, 1.6], "strokeWidth": 1, "interpolate": "monotone", "clip": true}},
  {"data": {"name": "cur"}, "transform": [{"filter": "datum.p==2 && datum.s=='k'"}], "mark": {"type": "line", "color": "#000", "strokeWidth": 1.2, "interpolate": "monotone", "clip": true}},
  {"data": {"name": "pts"}, "transform": [{"filter": "datum.p==2"}], "mark": {"type": "errorbar", "color": "#000", "thickness": 1}, "encoding": {"yError": {"field": "e"}}},
  {"data": {"name": "pts"}, "transform": [{"filter": "datum.p==2"}], "mark": {"type": "circle", "size": 12, "color": "#000", "opacity": 1}}
 ]},
{"width": 110, "height": 105, "title": {"text": "Λ 5/2⁻", "offset": -12, "fontSize": 11, "fontWeight": "normal"},
 "encoding": {
  "x": {"field": "W", "type": "quantitative", "title": null, "scale": {"domain": [1390, 2210], "nice": false, "zero": false}, "axis": {"values": [1400,1450,1500,1550,1600,1650,1700,1750,1800,1850,1900,1950,2000,2050,2100,2150,2200], "format": "d", "labelExpr": "datum.value==1600||datum.value==1800||datum.value==2000 ? datum.label : ''", "labelFontSize": 8.5, "labelPadding": 4, "title": "W, MeV", "titleX": 102, "titleAlign": "right", "titleFontWeight": "bold", "titleFontSize": 10, "titlePadding": 2, "labelFlush": false}},
  "y": {"field": "v", "type": "quantitative", "title": null, "scale": {"domain": [-0.097, 0.31], "nice": false, "zero": false}, "axis": {"values": [-0.075,-0.05,-0.025,0,0.025,0.05,0.075,0.1,0.125,0.15,0.175,0.2,0.225,0.25,0.275,0.3], "format": "~g", "labelExpr": "indexof([0,0.1,0.2], datum.value) >= 0 ? datum.label : ''"}}
 },
 "layer": [
  {"data": {"name": "band"}, "transform": [{"filter": "datum.p==5"}], "mark": {"type": "area", "color": "#c4e7b0", "interpolate": "monotone", "clip": true}, "encoding": {"y2": {"field": "v2"}}},
  {"data": {"name": "band"}, "transform": [{"filter": "datum.p==5"}], "mark": {"type": "line", "color": "#2b6a2b", "strokeWidth": 0.8, "interpolate": "monotone", "clip": true}},
  {"data": {"name": "band"}, "transform": [{"filter": "datum.p==5"}], "mark": {"type": "line", "color": "#2b6a2b", "strokeWidth": 0.8, "interpolate": "monotone", "clip": true}, "encoding": {"y": {"field": "v2", "type": "quantitative", "title": null}}},
  {"data": {"name": "cur"}, "transform": [{"filter": "datum.p==5 && datum.s=='r'"}], "mark": {"type": "line", "color": "#ff2020", "strokeDash": [4, 2.5], "strokeWidth": 1, "interpolate": "monotone", "clip": true}},
  {"data": {"name": "cur"}, "transform": [{"filter": "datum.p==5 && datum.s=='b'"}], "mark": {"type": "line", "color": "#2020ff", "strokeDash": [1.2, 1.6], "strokeWidth": 1, "interpolate": "monotone", "clip": true}},
  {"data": {"name": "cur"}, "transform": [{"filter": "datum.p==5 && datum.s=='k'"}], "mark": {"type": "line", "color": "#000", "strokeWidth": 1.2, "interpolate": "monotone", "clip": true}},
  {"data": {"name": "pts"}, "transform": [{"filter": "datum.p==5"}], "mark": {"type": "errorbar", "color": "#000", "thickness": 1}, "encoding": {"yError": {"field": "e"}}},
  {"data": {"name": "pts"}, "transform": [{"filter": "datum.p==5"}], "mark": {"type": "circle", "size": 12, "color": "#000", "opacity": 1}}
 ]}
]},
{"spacing": 0, "bounds": "flush", "vconcat": [
{"width": 110, "height": 101, "title": {"text": "Λ 3/2⁺", "offset": -12, "fontSize": 11, "fontWeight": "normal"},
 "encoding": {
  "x": {"field": "W", "type": "quantitative", "title": null, "scale": {"domain": [1390, 2210], "nice": false, "zero": false}, "axis": {"values": [1400,1450,1500,1550,1600,1650,1700,1750,1800,1850,1900,1950,2000,2050,2100,2150,2200], "labels": false}},
  "y": {"field": "v", "type": "quantitative", "title": null, "scale": {"domain": [-0.078, 0.638], "nice": false, "zero": false}, "axis": {"values": [-0.05,0,0.05,0.1,0.15,0.2,0.25,0.3,0.35,0.4,0.45,0.5,0.55,0.6], "format": "~g", "labelExpr": "indexof([0,0.2,0.4,0.6], datum.value) >= 0 ? datum.label : ''"}}
 },
 "layer": [
  {"data": {"name": "band"}, "transform": [{"filter": "datum.p==3"}], "mark": {"type": "area", "color": "#c4e7b0", "interpolate": "monotone", "clip": true}, "encoding": {"y2": {"field": "v2"}}},
  {"data": {"name": "band"}, "transform": [{"filter": "datum.p==3"}], "mark": {"type": "line", "color": "#2b6a2b", "strokeWidth": 0.8, "interpolate": "monotone", "clip": true}},
  {"data": {"name": "band"}, "transform": [{"filter": "datum.p==3"}], "mark": {"type": "line", "color": "#2b6a2b", "strokeWidth": 0.8, "interpolate": "monotone", "clip": true}, "encoding": {"y": {"field": "v2", "type": "quantitative", "title": null}}},
  {"data": {"name": "cur"}, "transform": [{"filter": "datum.p==3 && datum.s=='r'"}], "mark": {"type": "line", "color": "#ff2020", "strokeDash": [4, 2.5], "strokeWidth": 1, "interpolate": "monotone", "clip": true}},
  {"data": {"name": "cur"}, "transform": [{"filter": "datum.p==3 && datum.s=='b'"}], "mark": {"type": "line", "color": "#2020ff", "strokeDash": [1.2, 1.6], "strokeWidth": 1, "interpolate": "monotone", "clip": true}},
  {"data": {"name": "cur"}, "transform": [{"filter": "datum.p==3 && datum.s=='k'"}], "mark": {"type": "line", "color": "#000", "strokeWidth": 1.2, "interpolate": "monotone", "clip": true}},
  {"data": {"name": "pts"}, "transform": [{"filter": "datum.p==3"}], "mark": {"type": "errorbar", "color": "#000", "thickness": 1}, "encoding": {"yError": {"field": "e"}}},
  {"data": {"name": "pts"}, "transform": [{"filter": "datum.p==3"}], "mark": {"type": "circle", "size": 12, "color": "#000", "opacity": 1}}
 ]},
{"width": 110, "height": 105, "title": {"text": "Λ 5/2⁺", "offset": -12, "fontSize": 11, "fontWeight": "normal"},
 "encoding": {
  "x": {"field": "W", "type": "quantitative", "title": null, "scale": {"domain": [1390, 2210], "nice": false, "zero": false}, "axis": {"values": [1400,1450,1500,1550,1600,1650,1700,1750,1800,1850,1900,1950,2000,2050,2100,2150,2200], "format": "d", "labelExpr": "datum.value==1600||datum.value==1800||datum.value==2000 ? datum.label : ''", "labelFontSize": 8.5, "labelPadding": 4, "title": "W, MeV", "titleX": 106, "titleAlign": "right", "titleFontWeight": "bold", "titleFontSize": 10, "titlePadding": 2, "labelFlush": false}},
  "y": {"field": "v", "type": "quantitative", "title": null, "scale": {"domain": [-0.096, 0.817], "nice": false, "zero": false}, "axis": {"values": [-0.05,0,0.05,0.1,0.15,0.2,0.25,0.3,0.35,0.4,0.45,0.5,0.55,0.6,0.65,0.7,0.75,0.8], "format": "~g", "labelExpr": "indexof([0,0.2,0.4,0.6], datum.value) >= 0 ? datum.label : ''"}}
 },
 "layer": [
  {"data": {"name": "band"}, "transform": [{"filter": "datum.p==6"}], "mark": {"type": "area", "color": "#c4e7b0", "interpolate": "monotone", "clip": true}, "encoding": {"y2": {"field": "v2"}}},
  {"data": {"name": "band"}, "transform": [{"filter": "datum.p==6"}], "mark": {"type": "line", "color": "#2b6a2b", "strokeWidth": 0.8, "interpolate": "monotone", "clip": true}},
  {"data": {"name": "band"}, "transform": [{"filter": "datum.p==6"}], "mark": {"type": "line", "color": "#2b6a2b", "strokeWidth": 0.8, "interpolate": "monotone", "clip": true}, "encoding": {"y": {"field": "v2", "type": "quantitative", "title": null}}},
  {"data": {"name": "cur"}, "transform": [{"filter": "datum.p==6 && datum.s=='r'"}], "mark": {"type": "line", "color": "#ff2020", "strokeDash": [4, 2.5], "strokeWidth": 1, "interpolate": "monotone", "clip": true}},
  {"data": {"name": "cur"}, "transform": [{"filter": "datum.p==6 && datum.s=='b'"}], "mark": {"type": "line", "color": "#2020ff", "strokeDash": [1.2, 1.6], "strokeWidth": 1, "interpolate": "monotone", "clip": true}},
  {"data": {"name": "cur"}, "transform": [{"filter": "datum.p==6 && datum.s=='k'"}], "mark": {"type": "line", "color": "#000", "strokeWidth": 1.2, "interpolate": "monotone", "clip": true}},
  {"data": {"name": "pts"}, "transform": [{"filter": "datum.p==6"}], "mark": {"type": "errorbar", "color": "#000", "thickness": 1}, "encoding": {"yError": {"field": "e"}}},
  {"data": {"name": "pts"}, "transform": [{"filter": "datum.p==6"}], "mark": {"type": "circle", "size": 12, "color": "#000", "opacity": 1}}
 ]}
]}
],
"config": {
  "font": "Liberation Sans",
  "view": {"stroke": "#333", "strokeWidth": 1},
  "axis": {"domain": false, "grid": false, "tickColor": "#333", "tickSize": -3, "labelFontSize": 9, "labelColor": "#000", "labelPadding": 5, "titleColor": "#000", "labelOverlap": false},
  "title": {"color": "#000", "font": "Liberation Sans"}
}
}
